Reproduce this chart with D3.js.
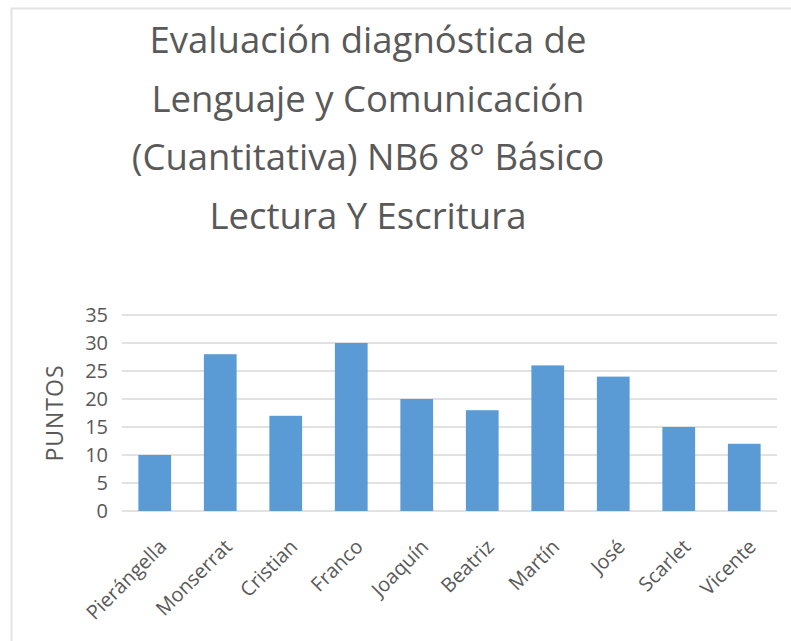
<!DOCTYPE html>
<html>
<head>
<meta charset="utf-8">
<script src="https://d3js.org/d3.v7.min.js"></script>
<style>
  html, body { margin: 0; padding: 0; background: #fff; }
  svg { display: block; }
  text { font-family: "Open Sans", sans-serif; fill: #595959; }
</style>
</head>
<body>
<div id="chart"></div>
<script>
// data
var students = ["Pierángella", "Monserrat", "Cristian", "Franco", "Joaquín",
                "Beatriz", "Martín", "José", "Scarlet", "Vicente"];
var puntos = [10, 28, 17, 30, 20, 18, 26, 24, 15, 12];
var yTicks = [0, 5, 10, 15, 20, 25, 30, 35];
var titleLines = ["Evaluación diagnóstica de", "Lenguaje y Comunicación",
                  "(Cuantitativa) NB6 8° Básico", "Lectura Y Escritura"];

var width = 791, height = 641;
var margin = {top: 315, right: 14, bottom: 130, left: 122};

var svg = d3.select("#chart").append("svg")
    .attr("width", width)
    .attr("height", height);

// chart frame (cut off on right and bottom)
svg.append("rect")
    .attr("x", 11.5).attr("y", 8.5)
    .attr("width", 900).attr("height", 800)
    .attr("fill", "none")
    .attr("stroke", "#e3e3e3")
    .attr("stroke-width", 2);

var x = d3.scaleBand()
    .domain(students)
    .range([margin.left, width - margin.right])
    .paddingInner(0.5)
    .paddingOuter(0.25);

var y = d3.scaleLinear()
    .domain([0, 35])
    .range([height - margin.bottom, margin.top]);

// gridlines
svg.append("g")
    .selectAll("line")
    .data(yTicks)
    .enter().append("line")
    .attr("x1", margin.left)
    .attr("x2", width - margin.right)
    .attr("y1", function(d) { return y(d); })
    .attr("y2", function(d) { return y(d); })
    .attr("stroke", "#d9d9d9")
    .attr("stroke-width", 1.5);

// bars
svg.append("g")
    .selectAll("rect")
    .data(puntos)
    .enter().append("rect")
    .attr("x", function(d, i) { return x(students[i]); })
    .attr("y", function(d) { return y(d); })
    .attr("width", x.bandwidth())
    .attr("height", function(d) { return y(0) - y(d); })
    .attr("fill", "#5b9bd5");

// y axis
var yAxis = svg.append("g")
    .attr("transform", "translate(" + (margin.left - 14) + ",0)")
    .call(d3.axisLeft(y).tickValues(yTicks).tickSize(0).tickPadding(0));
yAxis.select(".domain").remove();
yAxis.selectAll("text")
    .attr("font-size", 20)
    .style("font-family", "'Open Sans', sans-serif")
    .attr("fill", "#595959");

// x axis labels
var xAxis = svg.append("g")
    .attr("transform", "translate(0," + y(0) + ")")
    .call(d3.axisBottom(x).tickSize(0).tickPadding(0));
xAxis.select(".domain").remove();
xAxis.selectAll("text")
    .attr("font-size", 20)
    .style("font-family", "'Open Sans', sans-serif")
    .attr("fill", "#595959")
    .attr("text-anchor", "end")
    .attr("dy", 0)
    .attr("transform", "translate(13,37) rotate(-45)")
    .attr("y", 0)
    .attr("x", 0);

// y axis title
svg.append("text")
    .attr("transform", "translate(63," + ((y(0) + y(35)) / 2) + ") rotate(-90)")
    .attr("text-anchor", "middle")
    .attr("font-size", 23)
    .attr("letter-spacing", 1)
    .text("PUNTOS");

// chart title
svg.append("g")
    .selectAll("text")
    .data(titleLines)
    .enter().append("text")
    .attr("x", 368)
    .attr("y", function(d, i) { return 53 + i * 58.7; })
    .attr("text-anchor", "middle")
    .attr("font-size", 36.5)
    .text(function(d) { return d; });
</script>
</body>
</html>
